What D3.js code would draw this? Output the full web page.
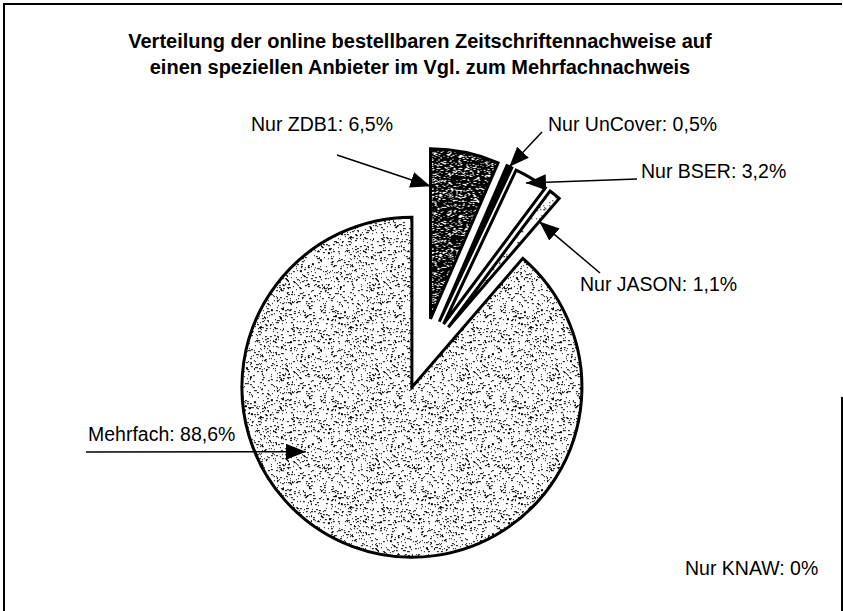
<!DOCTYPE html>
<html>
<head>
<meta charset="utf-8">
<script src="https://cdn.jsdelivr.net/npm/d3@7"></script>
<style>
  body { margin: 0; background: #fff; }
  svg { display: block; }
  text { font-family: "Liberation Sans", Arial, sans-serif; fill: #000; }
</style>
</head>
<body>
<svg id="chart"></svg>
<script>
// data
const categories = ['Nur ZDB1', 'Nur UnCover', 'Nur BSER', 'Nur JASON', 'Mehrfach', 'Nur KNAW'];
const shares = [6.5, 0.5, 3.2, 1.1, 88.6, 0];
const titleLines = [
    'Verteilung der online bestellbaren Zeitschriftennachweise auf',
    'einen speziellen Anbieter im Vgl. zum Mehrfachnachweis'
];

// layout
const width = 843;
const height = 611;
const cx = 422;
const cy = 360;
const radius = 170;
const explode = [42, 42, 42, 42, 29, 0];
const fills = ['url(#darkDots)', '#000', '#fff', 'url(#sparseDots)', 'url(#greyDots)', '#fff'];
// label anchor, arrow start, arrow tip (t along the slice angle, fraction of radius)
const labelLayout = [
    { x: 251, y: 131, from: [337, 155], tip: [0, 0.78] },
    { x: 548, y: 131, from: [542, 132], tip: [0.5, 1.0] },
    { x: 641, y: 178, from: [637, 179], tip: [0.44, 0.96] },
    { x: 580, y: 291, from: [600, 273], tip: [1, 0.82] },
    { x: 88, y: 441, from: [86, 452], tip: [0.62, 0.73] },
    { x: 685, y: 575, from: null, tip: null }
];

const data = categories.map((c, i) => ({ name: c, value: shares[i], i }));

const svg = d3.select('#chart')
    .attr('width', width)
    .attr('height', height);

// textures
let seed = 11;
const rnd = () => (seed = (seed * 16807) % 2147483647) / 2147483647;
const defs = svg.append('defs');

function stipple(id, size, bg, dot, count) {
    const p = defs.append('pattern')
        .attr('id', id)
        .attr('patternUnits', 'userSpaceOnUse')
        .attr('width', size)
        .attr('height', size);
    p.append('rect').attr('width', size).attr('height', size).attr('fill', bg);
    for (let k = 0; k < count; k++) {
        p.append('rect')
            .attr('x', Math.floor(rnd() * size))
            .attr('y', Math.floor(rnd() * size))
            .attr('width', rnd() < 0.4 ? 2 : 1)
            .attr('height', 1)
            .attr('fill', dot);
    }
}
stipple('greyDots', 90, '#fff', '#000', 800);
stipple('darkDots', 60, '#000', '#fff', 650);
stipple('sparseDots', 40, '#fff', '#000', 80);

defs.append('marker')
    .attr('id', 'head')
    .attr('markerUnits', 'userSpaceOnUse')
    .attr('viewBox', '0 0 20 16')
    .attr('refX', 20)
    .attr('refY', 8)
    .attr('markerWidth', 20)
    .attr('markerHeight', 16)
    .attr('orient', 'auto')
    .append('path')
    .attr('d', 'M0,0 L20,8 L0,16 Z')
    .attr('fill', '#000');

// frame
svg.append('path')
    .attr('d', `M4,${height + 5} V4 H842 M842,397 V${height + 5}`)
    .attr('fill', 'none')
    .attr('stroke', '#000')
    .attr('stroke-width', 2);

// title
svg.append('g')
    .selectAll('text')
    .data(titleLines)
    .join('text')
    .attr('x', 420)
    .attr('y', (d, i) => 48 + i * 26)
    .attr('text-anchor', 'middle')
    .attr('font-size', 20)
    .attr('font-weight', 'bold')
    .text(d => d);

// pie
const pie = d3.pie().sort(null).value(d => d.value);
const arcs = pie(data);
const arc = d3.arc().innerRadius(0).outerRadius(radius);

const offset = d => {
    const mid = (d.startAngle + d.endAngle) / 2;
    const e = explode[d.data.i];
    return [cx + e * Math.sin(mid), cy - e * Math.cos(mid)];
};

svg.append('g')
    .selectAll('path')
    .data(arcs.filter(d => d.value > 0))
    .join('path')
    .attr('transform', d => `translate(${offset(d)})`)
    .attr('d', arc)
    .attr('fill', d => fills[d.data.i])
    .attr('stroke', '#000')
    .attr('stroke-width', 3)
    .attr('stroke-linejoin', 'miter');

// labels and arrows
const fmt = v => v === 0 ? '0' : d3.format('.1f')(v).replace('.', ',');

const lab = svg.append('g');
arcs.forEach(d => {
    const L = labelLayout[d.data.i];
    if (L.from) {
        const o = offset(d);
        const a = d.startAngle + L.tip[0] * (d.endAngle - d.startAngle);
        const r = L.tip[1] * radius;
        const tx = o[0] + r * Math.sin(a);
        const ty = o[1] - r * Math.cos(a);
        lab.append('line')
            .attr('x1', L.from[0])
            .attr('y1', L.from[1])
            .attr('x2', tx)
            .attr('y2', ty)
            .attr('stroke', '#000')
            .attr('stroke-width', 1.5)
            .attr('marker-end', 'url(#head)');
    }
    lab.append('text')
        .attr('x', L.x)
        .attr('y', L.y)
        .attr('font-size', 19.5)
        .text(`${d.data.name}: ${fmt(d.data.value)}%`);
});
</script>
</body>
</html>
